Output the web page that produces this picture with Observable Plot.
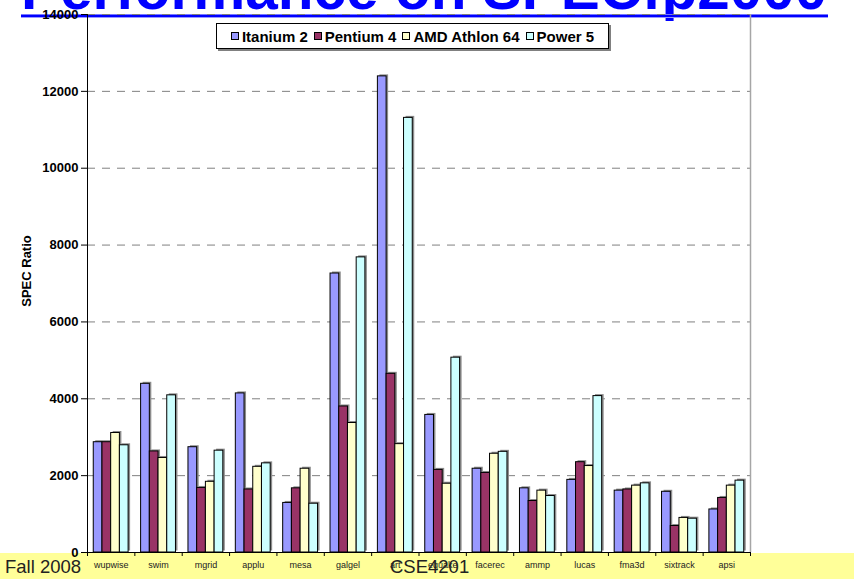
<!DOCTYPE html>
<html>
<head>
<meta charset="utf-8">
<script src="https://cdn.jsdelivr.net/npm/d3@7"></script>
<script src="https://cdn.jsdelivr.net/npm/@observablehq/plot@0.6"></script>
<style>
  html, body { margin: 0; padding: 0; background: #fff; }
  #wrap { position: relative; width: 854px; height: 579px; overflow: hidden; background: #fff; font-family: "Liberation Sans", Arial, sans-serif; }
  #band { position: absolute; left: 0; top: 553px; width: 854px; height: 26px; background: #ffff99; }
  #title { position: absolute; left: 21px; top: -40px; font-size: 58.5px; line-height: 58.5px; font-weight: bold; color: #0000ff; white-space: nowrap; }
  #uline { position: absolute; left: 21px; top: 14px; width: 807px; height: 2px; background: #0000ff; border-top: 1px solid #7777ff; border-bottom: 1px solid #9999ff; }
  #chart { position: absolute; left: 0; top: 0; }
  #legend { position: absolute; left: 216px; top: 23px; width: 391px; height: 24px; border: 1px solid #000; background: #fff; box-shadow: 2px 2px 0 #808080; display: flex; align-items: center; justify-content: center; font-weight: bold; font-size: 15px; white-space: nowrap; }
  .item { display: flex; align-items: center; margin: 0 3px; }
  .sw { width: 6px; height: 6px; border: 1px solid #000; margin-right: 3px; }
  #ylab { position: absolute; left: 26px; top: 271px; transform: translate(-50%, -50%) rotate(-90deg); font-size: 13px; font-weight: bold; white-space: nowrap; color: #000; }
  #fall { position: absolute; left: 5px; top: 556px; font-size: 18.5px; color: #222; }
  #cse { position: absolute; left: 390px; top: 556px; font-size: 18.5px; color: #222; }
</style>
</head>
<body>
<div id="wrap">
  <div id="band"></div>
  <div id="title">Performance on SPECfp2000</div>
  <div id="uline"></div>
  <div id="chart"></div>
  <div id="legend"></div>
  <div id="ylab">SPEC Ratio</div>
  <div id="fall">Fall 2008</div>
  <div id="cse">CSE4201</div>
</div>
<script>
// ---- data ----
const categories = ["wupwise", "swim", "mgrid", "applu", "mesa", "galgel", "art", "equake", "facerec", "ammp", "lucas", "fma3d", "sixtrack", "apsi"];
const seriesNames = ["Itanium 2", "Pentium 4", "AMD Athlon 64", "Power 5"];
const itanium2 = [2870, 4390, 2740, 4140, 1290, 7260, 12390, 3580, 2180, 1670, 1890, 1610, 1580, 1120];
const pentium4 = [2870, 2630, 1680, 1640, 1670, 3800, 4650, 2150, 2070, 1340, 2350, 1640, 690, 1420];
const athlon64 = [3110, 2460, 1840, 2230, 2180, 3370, 2820, 1790, 2570, 1610, 2250, 1740, 900, 1740];
const power5 = [2790, 4090, 2650, 2320, 1270, 7680, 11310, 5070, 2620, 1470, 4070, 1800, 880, 1870];
const seriesColors = ["#9999ff", "#993366", "#ffffcc", "#ccffff"];
const yTicks = [0, 2000, 4000, 6000, 8000, 10000, 12000, 14000];

// ---- build table ----
const seriesValues = [itanium2, pentium4, athlon64, power5];
const table = [];
categories.forEach((c, i) => {
  seriesValues.forEach((vals, j) => {
    table.push({category: c, ci: i, series: seriesNames[j], sj: j, value: vals[i]});
  });
});

// layout inside each category slot (fraction of slot)
const barW = 0.184;
const groupOffset = (1 - barW * seriesNames.length) / 2;
const x1 = d => d.ci + groupOffset + d.sj * barW;
const x2 = d => d.ci + groupOffset + (d.sj + 1) * barW;
const slotBounds = d3.range(categories.length + 1);
const slotCenters = categories.map((c, i) => i + 0.5);

const chart = Plot.plot({
  width: 854,
  height: 579,
  marginLeft: 87,
  marginRight: 104,
  marginTop: 14,
  marginBottom: 27,
  style: {background: "transparent", fontFamily: "'Liberation Sans', Arial, sans-serif", color: "#000"},
  x: {type: "linear", domain: [0, categories.length], axis: null},
  y: {domain: [0, 14000], axis: null},
  color: {domain: seriesNames, range: seriesColors},
  marks: [
    Plot.ruleY(yTicks.filter(d => d > 0), {stroke: "#808080", strokeDasharray: "8,7", strokeWidth: 1}),
    Plot.ruleX([categories.length], {stroke: "#a6a6a6", strokeWidth: 1.5}),
    Plot.rectY(table, {x1, x2, y: "value", fill: "#8c8c8c", dx: 2, dy: -1.5}),
    Plot.rectY(table, {x1, x2, y: "value", fill: "series", stroke: "#000", strokeWidth: 1}),
    Plot.ruleX([0], {stroke: "#000", strokeWidth: 1}),
    Plot.ruleY([0], {stroke: "#000", strokeWidth: 1}),
    Plot.axisY(yTicks, {tickSize: 6, tickPadding: 3, tickFormat: d => String(d), fontWeight: "bold", fontSize: 13, stroke: "#000", label: null}),
    Plot.axisX(slotBounds, {tickSize: 4, tickFormat: () => "", stroke: "#000", label: null}),
    Plot.axisX(slotCenters, {tickSize: 0, tickPadding: 9, tickFormat: v => categories[Math.floor(v)], fontSize: 9, fill: "#222", label: null})
  ]
});
document.getElementById("chart").appendChild(chart);

// legend
const legend = document.getElementById("legend");
seriesNames.forEach((name, j) => {
  const it = document.createElement("div");
  it.className = "item";
  const sw = document.createElement("div");
  sw.className = "sw";
  sw.style.background = seriesColors[j];
  const t = document.createElement("span");
  t.textContent = name;
  it.appendChild(sw);
  it.appendChild(t);
  legend.appendChild(it);
});
</script>
</body>
</html>
